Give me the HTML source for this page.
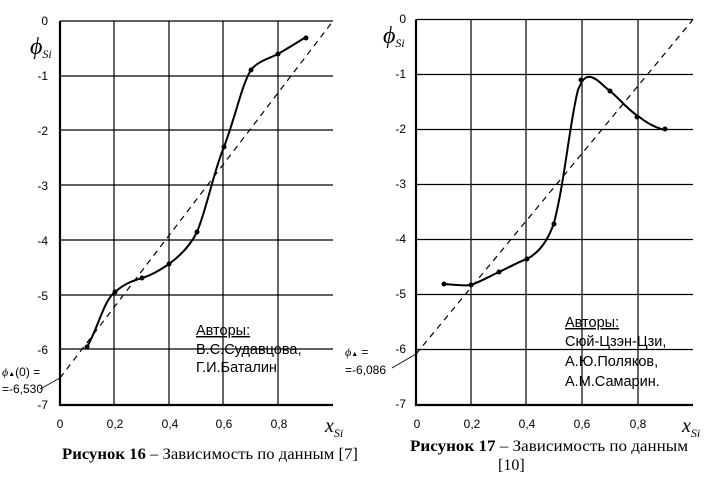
<!DOCTYPE html>
<html><head><meta charset="utf-8"><style>
body{margin:0;background:#fff;width:719px;height:498px;overflow:hidden}
svg text{font-family:"Liberation Sans",sans-serif;fill:#000}
.t{font-size:12px}
.s{font-family:"Liberation Serif",serif;font-style:italic}
.c{font-family:"Liberation Serif",serif;font-size:16px}
.a{font-size:14.5px}
</style></head><body>
<svg width="719" height="498" xmlns="http://www.w3.org/2000/svg">
<g stroke="#000" stroke-width="1.2" fill="none">
<path d="M60,21H333M60,76H333M60,130H333M60,185H333M60,240H333M60,295H333M60,349H333"/>
<path d="M114,21V404M169,21V404M223,21V404M278,21V404"/>
<path d="M60,21V405H333" stroke-width="2.2"/>
<path d="M60,378L333,21" stroke-dasharray="6,5"/>
<path d="M87,347 C98,328 104,300 115,292 C124,284 132,281 142,278 C152,275 160,270 169,264 C180,256 190,246 197,232 C207,208 214,170 224,147 C236,115 242,84 251,70 C258,61 268,59 278,54 C290,47 298,42 306,37" stroke-width="2"/>
<path d="M40,389L60,378" stroke-width="0.8"/>
<path d="M416,19.5H693M416,74.5H693M416,129.5H693M416,184.5H693M416,239.5H693M416,294.5H693M416,349.5H693"/>
<path d="M471,19.5V404M526,19.5V404M582,19.5V404M638,19.5V404"/>
<path d="M416,19.5V405H693" stroke-width="2.2"/>
<path d="M416,354L693,19.5" stroke-dasharray="6,5"/>
<path d="M444,284 C455,285 465,286 471,285 C482,281 490,276 499,272 C510,267 518,262 527,259 C540,252 548,240 554,223 C565,180 570,120 578,90 C582,80 585,76 591,77 C598,79 603,86 610,91 C620,99 628,110 638,116 C648,124 656,128 665,130" stroke-width="2"/>
<path d="M392,368L416,354" stroke-width="0.8"/>
</g>
<g fill="#000">
<circle cx="87" cy="347" r="2.5"/><circle cx="115" cy="292" r="2.5"/><circle cx="142" cy="278" r="2.5"/><circle cx="169" cy="264" r="2.5"/><circle cx="197" cy="232" r="2.5"/><circle cx="224" cy="147" r="2.5"/><circle cx="251" cy="70" r="2.5"/><circle cx="278" cy="54" r="2.5"/><circle cx="306" cy="38" r="2.5"/>
<circle cx="444" cy="284" r="2.5"/><circle cx="471" cy="285" r="2.5"/><circle cx="499" cy="272" r="2.5"/><circle cx="527" cy="259" r="2.5"/><circle cx="554" cy="224" r="2.5"/><circle cx="581" cy="80" r="2.5"/><circle cx="610" cy="91" r="2.5"/><circle cx="637" cy="117" r="2.5"/><circle cx="665" cy="129" r="2.5"/>
</g>
<g class="t" text-anchor="end">
<text x="48" y="25">0</text><text x="48" y="80">-1</text><text x="48" y="135">-2</text><text x="48" y="190">-3</text><text x="48" y="245">-4</text><text x="48" y="300">-5</text><text x="48" y="354">-6</text><text x="48" y="409">-7</text>
<text x="406" y="23">0</text><text x="406" y="78">-1</text><text x="406" y="133">-2</text><text x="406" y="188">-3</text><text x="406" y="243">-4</text><text x="406" y="298">-5</text><text x="406" y="353">-6</text><text x="406" y="408">-7</text>
</g>
<g class="t" text-anchor="middle">
<text x="60" y="428">0</text><text x="115" y="428">0,2</text><text x="170" y="428">0,4</text><text x="224" y="428">0,6</text><text x="279" y="428">0,8</text>
<text x="417" y="428">0</text><text x="472" y="428">0,2</text><text x="527" y="428">0,4</text><text x="582" y="428">0,6</text><text x="638" y="428">0,8</text>
</g>
<text class="s" x="30" y="54" font-size="24">ϕ<tspan font-size="12" dy="4">Si</tspan></text>
<text class="s" x="383" y="43" font-size="24">ϕ<tspan font-size="12" dy="4">Si</tspan></text>
<text class="s" x="325" y="432" font-size="20">x<tspan font-size="12" dy="5">Si</tspan></text>
<text class="s" x="682" y="432" font-size="20">x<tspan font-size="12" dy="5">Si</tspan></text>
<text class="t" x="2" y="376"><tspan class="s">ϕ</tspan><tspan font-size="7">▲</tspan>(0) =</text>
<text class="t" x="2" y="393">=-6,530</text>
<text class="t" x="345" y="356"><tspan class="s">ϕ</tspan><tspan font-size="7">▲</tspan> =</text>
<text class="t" x="345" y="374">=-6,086</text>
<text class="a" x="196" y="335" text-decoration="underline">Авторы:</text>
<text class="a" x="196" y="354">В.С.Судавцова,</text>
<text class="a" x="196" y="372">Г.И.Баталин</text>
<text class="a" x="565" y="327" text-decoration="underline">Авторы:</text>
<text class="a" x="565" y="346">Сюй-Цзэн-Цзи,</text>
<text class="a" x="565" y="366">А.Ю.Поляков,</text>
<text class="a" x="565" y="386">А.М.Самарин.</text>
<text class="c" x="62" y="459" textLength="296" lengthAdjust="spacingAndGlyphs"><tspan font-weight="bold">Рисунок 16</tspan> – Зависимость  по данным [7]</text>
<text class="c" x="410" y="451" textLength="278" lengthAdjust="spacingAndGlyphs"><tspan font-weight="bold">Рисунок 17</tspan> – Зависимость  по данным</text>
<text class="c" x="498" y="470">[10]</text>
</svg>
</body></html>
